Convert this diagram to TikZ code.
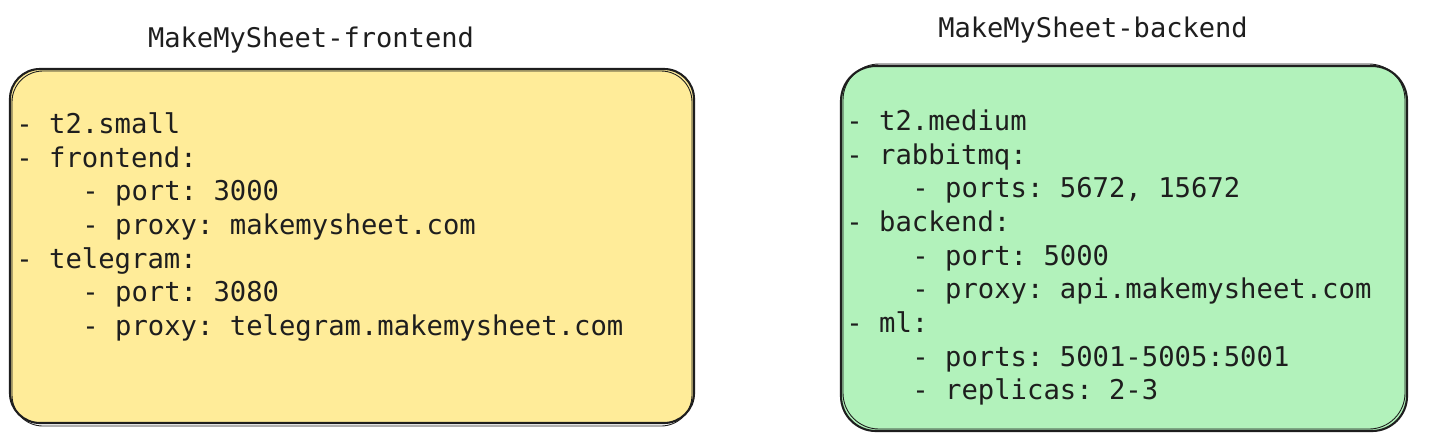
\documentclass[tikz,border=0pt]{standalone}
\usepackage{fontspec}
\setmonofont{DejaVu Sans Mono}
\definecolor{noteyellow}{HTML}{FFEC99}
\definecolor{notegreen}{HTML}{B2F2BB}
\definecolor{ink}{HTML}{1E1E1E}

\begin{document}
\begin{tikzpicture}[x=0.02cm, y=-0.02cm] %MakeMySheet
	\tikzstyle{sketchbox} = [draw=ink, line width=1.2pt, rounded corners=0.6cm]
	\tikzstyle{sketchedge} = [draw=ink, line width=0.5pt, rounded corners=0.62cm]
	\tikzstyle{boxtitle} = [anchor=base, inner sep=0pt, text=ink, font=\ttfamily\fontsize{15.4}{18}\selectfont]
	\tikzstyle{yamlline} = [anchor=base west, inner sep=0pt, text=ink, font=\ttfamily\fontsize{15.5}{19}\selectfont]
	\useasboundingbox (0,0) rectangle (1446,441);
	% frontend box
	\fill[noteyellow, rounded corners=0.6cm] (10,69) rectangle (694,423);
	\draw[sketchbox] (10,69) rectangle (694,423);
	\draw[sketchedge] (12,71) rectangle (692,426);
	\node[boxtitle] (fetitle) at (311,47) {MakeMySheet-frontend};
	\foreach \n/\x/\y/\txt in {1/16/133/{- t2.small}, 2/16/167/{- frontend:}, 3/82/200/{- port: 3000}, 4/82/234/{- proxy: makemysheet.com}, 5/16/268/{- telegram:}, 6/82/301/{- port: 3080}, 7/82/335/{- proxy: telegram.makemysheet.com}}
	{
		\node[yamlline] (fe\n) at (\x,\y) {\txt};
	}
	% backend box
	\fill[notegreen, rounded corners=0.7cm] (841,66) rectangle (1407,431);
	\draw[sketchbox, rounded corners=0.7cm] (841,66) rectangle (1407,431);
	\draw[sketchedge, rounded corners=0.72cm] (843,64) rectangle (1405,429);
	\node[boxtitle] (betitle) at (1093,37) {MakeMySheet-backend};
	\foreach \n/\x/\y/\txt in {1/846/130/{- t2.medium}, 2/846/164/{- rabbitmq:}, 3/912/197/{- ports: 5672, 15672}, 4/846/231/{- backend:}, 5/912/265/{- port: 5000}, 6/912/298/{- proxy: api.makemysheet.com}, 7/846/332/{- ml:}, 8/912/366/{- ports: 5001-5005:5001}, 9/912/399/{- replicas: 2-3}}
	{
		\node[yamlline] (be\n) at (\x,\y) {\txt};
	}
\end{tikzpicture}
\end{document}
